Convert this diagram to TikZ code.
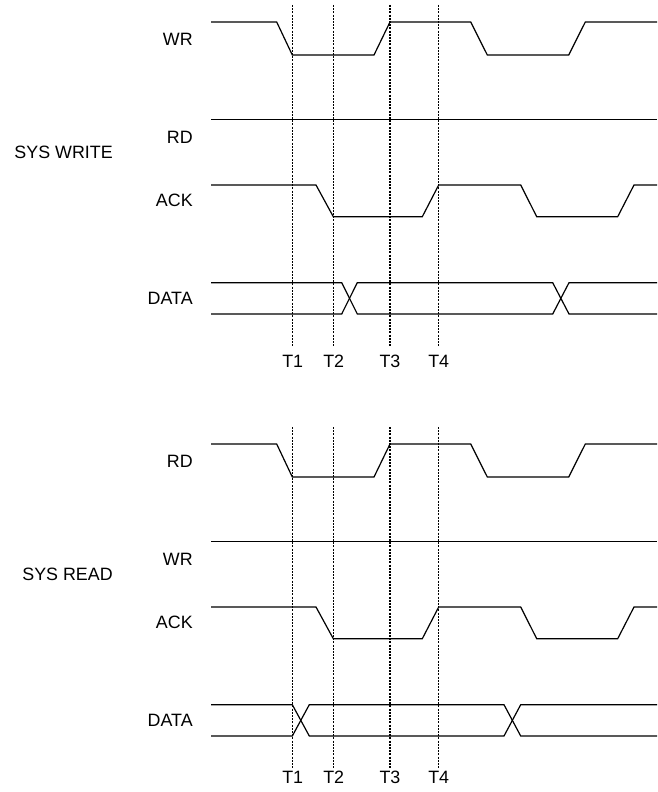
\documentclass[tikz,border=0pt]{standalone}
\usepackage{fontspec}
\setmainfont{Liberation Sans}
\begin{document}
\begin{tikzpicture}[x=0.75pt,y=-0.75pt,
  sig/.style={line width=0.9pt, line join=miter},
  tickline/.style={line width=0.75pt, dash pattern=on 1.5pt off 0.9pt},
  tickthick/.style={line width=1.3pt, dash pattern=on 1.5pt off 0.9pt},
  lbl/.style={font=\fontsize{13.4}{15}\selectfont, inner sep=0pt, anchor=base east},
  tlbl/.style={font=\fontsize{13.4}{15}\selectfont, inner sep=0pt, anchor=base}]
\useasboundingbox[fill=white] (0,0) rectangle (657,792);

% ---------- SYS WRITE (offset 0) ----------
\node[lbl] (sysw) at (113,158) {SYS WRITE};
\node[lbl] (wr1) at (193,45.3) {WR};
\node[lbl] (rd1) at (193,143.3) {RD};
\node[lbl] (ack1) at (193,206.8) {ACK};
\node[lbl] (data1) at (193,304.8) {DATA};

\draw[sig] (211,22) -- (276.7,22) -- (292.3,55) -- (374,55) -- (390,22) -- (470.7,22) -- (487.3,55) -- (568.7,55) -- (585.3,22) -- (657,22);
\draw[sig] (211,119.3) -- (657,119.3);
\draw[sig] (211,185) -- (316,185) -- (333.3,216.7) -- (422.3,216.7) -- (438.7,185) -- (520.7,185) -- (536.7,216.7) -- (617.7,216.7) -- (634,185) -- (657,185);
\draw[sig] (211,282.7) -- (341.7,282.7) -- (357.3,314) -- (552.7,314) -- (569,282.7) -- (657,282.7);
\draw[sig] (211,314) -- (341.7,314) -- (357.3,282.7) -- (552.7,282.7) -- (569,314) -- (657,314);

% ---------- SYS READ (offset 422) ----------
\node[lbl] (sysr) at (113,580) {SYS READ};
\node[lbl] (rd2) at (193,467.3) {RD};
\node[lbl] (wr2) at (193,565.3) {WR};
\node[lbl] (ack2) at (193,628.8) {ACK};
\node[lbl] (data2) at (193,726.8) {DATA};

\draw[sig] (211,444) -- (276.7,444) -- (292.3,477) -- (374,477) -- (390,444) -- (470.7,444) -- (487.3,477) -- (568.7,477) -- (585.3,444) -- (657,444);
\draw[sig] (211,541.3) -- (657,541.3);
\draw[sig] (211,607) -- (316,607) -- (333.3,638.7) -- (422.3,638.7) -- (438.7,607) -- (520.7,607) -- (536.7,638.7) -- (617.7,638.7) -- (634,607) -- (657,607);
\draw[sig] (211,704.7) -- (292.3,704.7) -- (309.3,736) -- (504,736) -- (520.7,704.7) -- (657,704.7);
\draw[sig] (211,736) -- (292.3,736) -- (309.3,704.7) -- (504,704.7) -- (520.7,736) -- (657,736);

% ---------- timing markers ----------
\foreach \o/\b/\s in {0/367.5/a,422/783/b}{
  \coordinate (t1top\s) at (292.7,5+\o);
  \coordinate (t2top\s) at (333.7,5+\o);
  \coordinate (t3top\s) at (390,5+\o);
  \coordinate (t4top\s) at (438.7,5+\o);
  \node[tlbl] (t1\s) at (292.7,\b) {T1};
  \node[tlbl] (t2\s) at (333.7,\b) {T2};
  \node[tlbl] (t3\s) at (390,\b) {T3};
  \node[tlbl] (t4\s) at (438.7,\b) {T4};
  \draw[tickline] (t1top\s) -- (292.7,346.7+\o);
  \draw[tickline] (t2top\s) -- (333.7,346.7+\o);
  \draw[tickthick] (t3top\s) -- (390,346.7+\o);
  \draw[tickline] (t4top\s) -- (438.7,346.7+\o);
}
\end{tikzpicture}
\end{document}
